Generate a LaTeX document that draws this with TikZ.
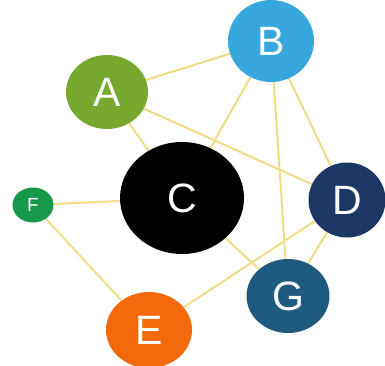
\documentclass[tikz,border=0pt]{standalone}
\usepackage{fontspec}
\setmainfont{Liberation Sans}
\usetikzlibrary{shapes.geometric, backgrounds}

\definecolor{greenA}{HTML}{77A82F}
\definecolor{blueB}{HTML}{37A7DD}
\definecolor{navyD}{HTML}{1C3763}
\definecolor{orangeE}{HTML}{F26A0C}
\definecolor{greenF}{HTML}{16994A}
\definecolor{tealG}{HTML}{1F5B7E}
\definecolor{linkyellow}{HTML}{EEDD85}

\begin{document}
\begin{tikzpicture}[
    x=1pt, y=-1pt,
    vertex/.style={ellipse, fill=#1, text=white, inner sep=0pt, font=\fontsize{41}{41}\selectfont},
    small/.style={font=\fontsize{19}{19}\selectfont},
    link/.style={draw=linkyellow, line width=2pt}
]
\useasboundingbox (0,0) rectangle (385,365);

% Vertices
\node[vertex=greenA, minimum width=82pt, minimum height=74pt] (A) at (107,92) {A};
\node[vertex=blueB, minimum width=86pt, minimum height=82pt] (B) at (271,41) {B};
\node[vertex=black, minimum width=124pt, minimum height=112pt] (C) at (182,198) {C};
\node[vertex=navyD, minimum width=77pt, minimum height=75pt] (D) at (347,200) {D};
\node[vertex=orangeE, minimum width=86pt, minimum height=76pt] (E) at (149,330) {E};
\node[vertex=greenF, small, minimum width=41pt, minimum height=35pt] (F) at (33,205) {F};
\node[vertex=tealG, minimum width=83pt, minimum height=74pt] (G) at (288,296) {G};

% Links (behind the vertices)
\begin{scope}[on background layer]
\draw[link] (A) -- (B);
\draw[link] (A) -- (C);
\draw[link] (A.center) -- (D);
\draw[link] (B) -- (C);
\draw[link] (B) -- (G);
\draw[link] (B) -- (D);
\draw[link] (F) -- (C);
\draw[link] (F) -- (E);
\draw[link] (C) -- (G);
\draw[link] (E) -- (D);
\draw[link] (D) -- (G);
\end{scope}

\end{tikzpicture}
\end{document}
